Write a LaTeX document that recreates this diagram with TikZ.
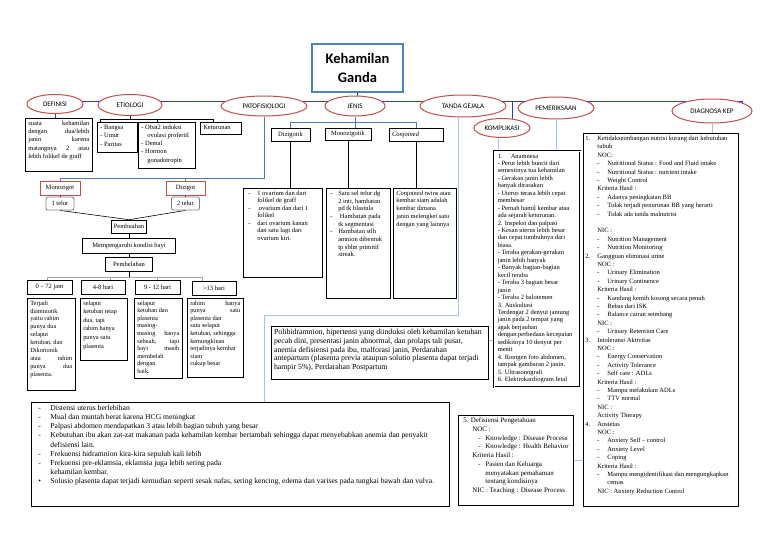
\documentclass[tikz,border=0pt]{standalone}
\usepackage{fontspec}
\setmainfont{Liberation Serif}
\newfontfamily\calfont{Carlito}
\usetikzlibrary{shapes.geometric}
\pgfdeclarelayer{bg}
\pgfsetlayers{bg,main}
\definecolor{mainblue}{HTML}{3333F5}
\definecolor{steel}{HTML}{4A7EBB}
\definecolor{lightb}{HTML}{A5C5E6}
\definecolor{ellred}{HTML}{C0504D}
\definecolor{titleb}{HTML}{4F81BD}
\newcommand{\mybox}[3]{\parbox[t][#2pt][t]{#1pt}{#3}}
\newcommand{\fsz}[2]{\fontsize{#1}{#2}\selectfont}
\newcommand{\dgnum}[1]{\makebox[12pt][l]{#1}}
\newcommand{\dgind}{\hspace*{12pt}}
\newcommand{\dgdash}{\hspace*{12pt}\makebox[10pt][l]{-}}
\newcommand{\dgcont}{\hspace*{22pt}}
\begin{document}
\begin{tikzpicture}[x=1pt,y=-1pt,
 ell/.style={ellipse, draw=ellred, line width=1pt, fill=white, inner sep=0pt, font=\calfont\fsz{7}{8}},
 bx/.style={draw=black, line width=0.6pt, fill=white, anchor=north west, inner xsep=3pt, inner ysep=2.5pt},
 lbl/.style={draw=black, line width=0.6pt, fill=white, inner sep=0pt, font=\fsz{6.5}{7}},
 redbx/.style={draw=ellred, line width=0.8pt, fill=white, inner sep=0pt, font=\fsz{6.5}{7}},
 rnd/.style={draw=gray, line width=0.8pt, rounded corners=2pt, fill=white, inner sep=0pt, font=\fsz{6.5}{7}},
 mainln/.style={draw=mainblue, line width=1pt},
 steelln/.style={draw=steel, line width=0.8pt},
 lightln/.style={draw=lightb, line width=0.8pt},
 blk/.style={draw=black, line width=0.6pt},
 grayln/.style={draw=gray!70, line width=0.9pt}]
\useasboundingbox (0,0) rectangle (768,543);

% title
\node[draw=titleb, line width=1.6pt, fill=white, minimum width=91, minimum height=48, inner sep=0pt, align=center, font=\calfont\bfseries\fsz{14.5}{19}] (title) at (357.5,68) {Kehamilan\\Ganda};

% ellipses
\node[ell, minimum width=56, minimum height=19] (def) at (55,104) {DEFINISI};
\node[ell, minimum width=64, minimum height=21] (eti) at (130,105) {ETIOLOGI};
\node[ell, minimum width=86, minimum height=20] (pat) at (264,106) {PATOFISIOLOGI};
\node[ell, minimum width=60, minimum height=20] (jen) at (355,106) {JENIS};
\node[ell, minimum width=86, minimum height=22] (tg) at (463,106) {TANDA GEJALA};
\node[ell, minimum width=76, minimum height=22] (pem) at (556,108) {PEMERIKSAAN};
\node[ell, minimum width=80, minimum height=24] (dk) at (712,111) {DIAGNOSA KEP};
\node[ell, minimum width=56, minimum height=19] (kom) at (502,128) {KOMPLIKASI};

% definisi / etiologi
\node[bx] (defbox) at (25,118) {\mybox{61}{48}{\fsz{6.5}{8.3}suata kehamilan\linebreak dengan dua/lebih\linebreak janin karena\linebreak matangnya 2 atau\linebreak lebih folikel de graff}};
\node[bx] (bangsa) at (97,122) {\mybox{34}{25}{\fsz{6.5}{8.5}- Bangsa\\- Umur\\- Paritas}};
\node[bx] (obat) at (138,122) {\mybox{51}{41}{\fsz{6.5}{8.2}- Obat2 induksi\\\hspace*{6pt}ovulasi profertil\\- Demal\\- Hormon\\\hspace*{6pt}gonadotropin}};
\node[bx] (ket) at (200,122) {\mybox{35}{7}{\fsz{6.5}{8}Keturunan}};

% patofisiologi
\node[redbx, minimum width=40, minimum height=14] (mono) at (60,188) {Monozigot};
\node[redbx, minimum width=39, minimum height=14] (diz) at (185.5,188) {Dizigot};
\node[rnd, minimum width=28, minimum height=13] (tel1) at (60,203.5) {1 telur};
\node[rnd, minimum width=28, minimum height=13] (tel2) at (185.5,203.5) {2 telur};
\node[lbl, minimum width=35, minimum height=13] (pbuah) at (129,226.5) {Pembuahan};
\node[lbl, minimum width=93, minimum height=15] (mpg) at (129,245.5) {Mempengaruhi kondisi bayi};
\node[lbl, minimum width=47, minimum height=14] (pbelah) at (129,264) {Pembelahan};
\node[lbl, minimum width=45, minimum height=14] (dy1) at (49.5,287) {0 – 72 jam};
\node[lbl, minimum width=44, minimum height=14] (dy2) at (103,287) {4-8 hari};
\node[lbl, minimum width=45, minimum height=14] (dy3) at (157.5,287) {9 - 12 hari};
\node[lbl, minimum width=44, minimum height=14] (dy4) at (214,288) {>13 hari};
\node[bx] (tx1) at (27,298) {\mybox{42}{87}{\fsz{6.3}{7.9}Terjadi\\ diamniotik\\ yaitu rahim\\ punya dua\\ selaput\\ ketuban, dan\\ Dikorionik\\ atau rahim\linebreak punya dua\linebreak plasenta.}};
\node[bx] (tx2) at (80,298) {\mybox{41}{57}{\fsz{6.3}{8.6}selaput\\ ketuban tetap\\ dua, tapi\\ rahim hanya\\ punya satu\\ plasenta}};
\node[bx] (tx3) at (134,298) {\mybox{42}{75}{\fsz{6.3}{7.6}selaput\\ ketuban dan\\ plasenta\\ masing-\\ masing hanya\linebreak sebuah, tapi\linebreak bayi masih\linebreak membelah\\ dengan\\ baik.}};
\node[bx] (tx4) at (187,298) {\mybox{50}{74}{\fsz{6.3}{7.6}rahim hanya\linebreak punya satu\linebreak plasenta dan\\ satu selaput\\ ketuban, sehingga\\ kemungkinan\\ terjadinya kembar\\ siam\\ cukup besar}};

% jenis
\node[lbl, minimum width=39, minimum height=13] (jdiz) at (290.5,134.5) {Dizigotik};
\node[lbl, minimum width=46, minimum height=12] (jmono) at (348,134) {Monozigotik};
\node[lbl, minimum width=54, minimum height=13, text width=48, align=left] (jconj) at (416,134.5) {\textit{Conjoined}};
\node[bx] (tdiz) at (243,188) {\mybox{73}{84}{\fsz{6.5}{7.5}\hspace*{2pt}\makebox[9pt][l]{-}1 ovarium dan dari\\\hspace*{11pt}folikel de graff\\\hspace*{2pt}\makebox[9pt][l]{-}\ ovarium dan dari 1\\\hspace*{11pt}folikel\\\hspace*{2pt}\makebox[9pt][l]{-}dari ovarium kanan\\\hspace*{11pt}dan satu lagi dari\\\hspace*{11pt}ovarium kiri.}};
\node[bx] (tmono) at (326,188) {\mybox{58}{105}{\fsz{6.5}{7.7}\hspace*{1pt}\makebox[8pt][l]{-}Satu sel telur dg\\\hspace*{9pt}2 inti, hambatan\\\hspace*{9pt}pd tk blastula\\\hspace*{1pt}\makebox[8pt][l]{-}\ Hambatan pada\\\hspace*{9pt}tk segmentasi\\\hspace*{1pt}\makebox[8pt][l]{-}Hambatan stlh\\\hspace*{9pt}amnion dibentuk\\\hspace*{9pt}tp sblm primitif\\\hspace*{9pt}streak.}};
\node[bx] (tconj) at (393,188) {\mybox{57}{105}{\fsz{6.4}{7.7}\textit{Conjoined} twins atau\\ kembar siam adalah\\ kembar dimana\\ janin melengket satu\\ dengan yang lainnya}};

% komplikasi
\node[bx, line width=1.1pt, inner xsep=2.5pt] (komp) at (271,326) {\mybox{212}{48}{\fsz{7.8}{8.8}Polihidramnion, hipertensi yang diinduksi oleh kehamilan ketuban\\ pecah dini, presentasi janin abnormal, dan prolaps tali pusat,\\ anemia defisiensi pada ibu, malforasi janin, Perdarahan\\ antepartum (plasenta previa ataupun solutio plasenta dapat terjadi\\ hampir 5\%), Perdarahan Postpartum}};

% tanda gejala
\node[bx, line width=0.9pt] (dist) at (31,402) {\mybox{412}{99}{\fsz{7.6}{9.2}\hspace*{4pt}\makebox[12pt][l]{-}Distensi uterus berlebihan\\
\hspace*{4pt}\makebox[12pt][l]{-}Mual dan muntah berat karena HCG meningkat\\
\hspace*{4pt}\makebox[12pt][l]{-}Palpasi abdomen mendapatkan 3 atau lebih bagian tubuh yang besar\\
\hspace*{4pt}\makebox[12pt][l]{-}Kebutuhan ibu akan zat-zat makanan pada kehamilan kembar bertambah sehingga dapat menyebabkan anemia dan penyakit\\
\hspace*{16pt}defisiensi lain.\\
\hspace*{4pt}\makebox[12pt][l]{-}Frekuensi hidramnion kira-kira sepuluh kali lebih\\
\hspace*{4pt}\makebox[12pt][l]{-}Frekuensi pre-eklamsia, eklamsia juga lebih sering pada\\
\hspace*{16pt}kehamilan kembar.\\
\hspace*{4pt}\makebox[12pt][l]{\textbullet}Solusio plasenta dapat terjadi kemudian seperti sesak nafas, sering kencing, edema dan varises pada tungkai bawah dan vulva.}};

% pemeriksaan
\node[bx, double, double distance=0.9pt, line width=0.5pt, inner xsep=3.5pt] (anam) at (494,151) {\mybox{79}{231}{\fsz{6.5}{7.45}\makebox[13pt][l]{1.}Anamnesa\\
- Perut lebih buncit dari\\
semestinya tua kehamilan\\
\ - Gerakan janin lebih\\
banyak dirasakan\\
\ - Uterus terasa lebih cepat\\
membesar\\
\ - Pernah hamil kembar atau\\
ada sejarah keturunan.\\
2. Inspeksi dan palpasi\\
\ - Kesan uterus lebih besar\\
dan cepat tumbuhnya dari\\
biasa.\\
\ - Teraba gerakan-gerakan\\
janin lebih banyak\\
\ - Banyak bagian-bagian\\
kecil teraba\\
\ - Teraba 3 bagian besar\\
janin\\
\ - Teraba 2 balotemen\\
3. Auskultasi\\
Terdengar 2 denyut jantung\\
janin pada 2 tempat yang\\
agak berjauhan\\
dengan perbedaan kecepatan\\
sedikitnya 10 denyut per\\
menit\\
4. Rontgen foto abdomen,\\
tampak gambaran 2 janin.\\
5. Ultrasonografi\\
6. Elektrokardiogram fetal}};

% diagnosa
\node[bx, line width=0.9pt, inner xsep=2pt] (diag) at (583,133) {\mybox{151}{368}{\fsz{6.5}{8.4}\dgnum{1.}Ketidakseimbangan nutrisi kurang dari kebutuhan\\
\dgind tubuh\\
\dgind NOC:\\
\dgdash Nutritional Status : Food and Fluid intake\\
\dgdash Nutritional Status : nutrient intake\\
\dgdash Weight Control\\
\dgind Kriteria Hasil :\\
\dgdash Adanya peningkatan BB\\
\dgdash Tidak terjadi penurunan BB yang berarti\\
\dgdash Tidak ada tanda malnutrisi\\
\mbox{}\\
\dgind NIC :\\
\dgdash Nutrition Management\\
\dgdash Nutrition Monitoring\\
\dgnum{2.}Gangguan eliminasi urine\\
\dgind NOC :\\
\dgdash Urinary Elimination\\
\dgdash Urinary Continence\\
\dgind Kriteria Hasil :\\
\dgdash Kandung kemih kosong secara penuh\\
\dgdash Bebas dari ISK\\
\dgdash Balance cairan seimbang\\
\dgind NIC :\\
\dgdash Urinary Retention Care\\
\dgnum{3.}Intoleransi Aktivitas\\
\dgind NOC :\\
\dgdash Energy Conservation\\
\dgdash Activity Tolerance\\
\dgdash Self care : ADLs\\
\dgind Kriteria Hasil :\\
\dgdash Mampu melakukan ADLs\\
\dgdash TTV normal\\
\dgind NIC :\\
\dgind Activity Therapy\\
\dgnum{4.}Ansietas\\
\dgind NOC :\\
\dgdash Anxiety Self – control\\
\dgdash Anxiety Level\\
\dgdash Coping\\
\dgind Kriteria Hasil :\\
\dgdash Mampu mengidentifikasi dan mengungkapkan\\
\dgcont cemas\\
\dgind NIC : Anxiety Reduction Control}};
\node[bx, line width=0.9pt] (defi) at (458,415) {\mybox{109}{85}{\fsz{6.9}{8.7}\hspace*{2pt}5. Defisiensi Pengetahuan\\
\hspace*{11pt}NOC :\\
\hspace*{17pt}\makebox[7pt][l]{-}Knowledge : Disease Process\\
\hspace*{17pt}\makebox[7pt][l]{-}Knowledge : Health Behavior\\
\hspace*{11pt}Kriteria Hasil :\\
\hspace*{17pt}\makebox[7pt][l]{-}Pasien dan Keluarga\\
\hspace*{24pt}menyatakan pemahaman\\
\hspace*{24pt}tentang kondisinya\\
\hspace*{11pt}NIC : Teaching : Disease Process}};

\begin{pgfonlayer}{bg}
\fill[white] (0,0) rectangle (768,543);
\coordinate (b1) at (33,101); \coordinate (b2) at (130,101);
\coordinate (b3) at (268,101); \coordinate (b4) at (357,101);
\coordinate (b5) at (477,101); \coordinate (b6) at (512,101);
\coordinate (b7) at (553,101); \coordinate (b8) at (742,101);
\draw[blk] (title.south) -- (b4);
\draw[mainln] (b1) -- (b8);
\draw[mainln] (b1) -- (b1 |- def.center);
\draw[mainln] (b2) -- (b2 |- eti.center);
\draw[mainln] (b3) -- (b3 |- pat.center);
\draw[mainln] (b4) -- (b4 |- jen.center);
\draw[mainln] (b5) -- (b5 |- tg.center);
\draw[mainln] (b6) -- (b6 |- kom.center);
\draw[mainln] (b7) -- (b7 |- pem.center);
\draw[mainln] (b8) -- (b8 |- dk.center);
\draw[mainln] (def.south) -- (def.south |- defbox.north);
% etiologi
\coordinate (eL) at (100,119); \coordinate (eM) at (157,119); \coordinate (eR) at (213,119);
\draw[blk] (eti.south) -- (eti.south |- eL);
\draw[blk] (eL) -- (eR);
\draw[blk] (eL) -- (eL |- bangsa.north);
\draw[blk] (eM) -- (eM |- obat.north);
\draw[blk] (eR) -- (eR |- ket.north);
% patofisiologi
\coordinate (pL) at (60,178); \coordinate (pD) at (185.5,178);
\draw[steelln] (pat.south) |- (pL);
\draw[steelln] (pL) -- (mono.north);
\draw[steelln] (pD) -- (diz.north);
\draw[blk] (mono.south) -- (tel1.north);
\draw[blk] (diz.south) -- (tel2.north);
\draw[blk] (tel1.south) -- (pbuah.north);
\draw[blk] (tel2.south) -- (pbuah.north);
\draw[blk] (pbuah) -- (mpg);
\draw[blk] (mpg) -- (pbelah);
\coordinate (dJ) at (129,277); \coordinate (dA) at (47,277); \coordinate (dB) at (110,277);
\coordinate (dC) at (157,277); \coordinate (dD) at (202,277);
\draw[blk] (pbelah.south) -- (dJ);
\draw[grayln] (dA) -- (dD);
\draw[grayln] (dA) -- (dA |- dy1.north);
\draw[grayln] (dB) -- (dB |- dy2.north);
\draw[grayln] (dC) -- (dC |- dy3.north);
\draw[grayln] (dD) -- (dD |- dy4.north);
% jenis
\coordinate (jL) at (290.5,122); \coordinate (jM) at (355,122); \coordinate (jR) at (416,122);
\draw[steelln] (jen.south) -- (jM);
\draw[steelln] (jL) -- (jR);
\draw[steelln] (jL) -- (jdiz.north);
\draw[steelln] (jM) -- (jM |- jmono.north);
\draw[steelln] (jR) -- (jconj.north);
\draw[blk] (jdiz.south) -- (jdiz.south |- tdiz.north);
\draw[blk] (jmono.south) -- (jmono.south |- tmono.north);
\draw[blk] (jconj.south) -- (jconj.south |- tconj.north);
% tanda gejala, komplikasi
\coordinate (tgA) at (458,315); \coordinate (tgB) at (264,315);
\draw[lightln] (tg.south -| tgA) -- (tgA) -- (tgB) -- (tgB |- dist.north);
\coordinate (kA) at (498,340);
\draw[lightln] (kom.south -| kA) -- (kA) -- (kA -| komp.east);
% pemeriksaan, diagnosa
\draw[lightln] (pem.south) -- (pem.south |- anam.north);
\draw[lightln] (dk.south) -- (dk.south |- diag.north);
\draw[lightln] (defi.east) -- (defi.east -| diag.west);
\end{pgfonlayer}
\end{tikzpicture}
\end{document}
